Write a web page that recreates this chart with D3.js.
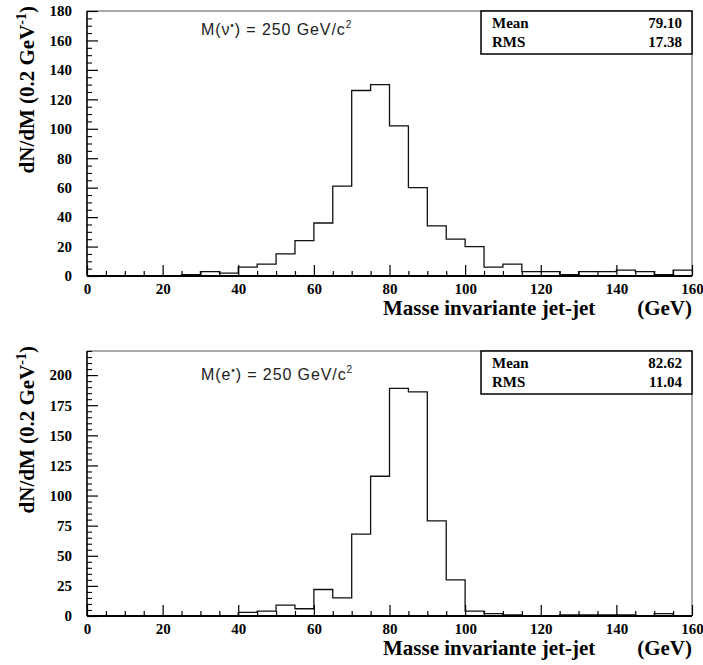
<!DOCTYPE html>
<html><head><meta charset="utf-8">
<script src="https://cdn.jsdelivr.net/npm/d3@7"></script>
<style>
body{margin:0;background:#fff;}
svg{display:block;}
</style></head>
<body>
<svg id="c" width="703" height="665"></svg>
<script>
// ---- data ----
const binLow = [0,5,10,15,20,25,30,35,40,45,50,55,60,65,70,75,80,85,90,95,100,105,110,115,120,125,130,135,140,145,150,155];
const binWidth = 5;
const nuValues = [0,0,0,0,0,1,3,2,6,8,15,24,36,61,126,130,102,60,34,25,20,6,8,3,3,1,3,3,4,3,1,4];
const eValues  = [0,0,0,0,0,0,0,0,3,4,9,6,22,15,68,116,189,186,79,30,4,2,1,0,0,1,1,1,1,0,2,0];
const xTicks = [0,20,40,60,80,100,120,140,160];
const yTicksTop = [0,20,40,60,80,100,120,140,160,180];
const yTicksBot = [0,25,50,75,100,125,150,175,200];
const statsTop = [["Mean","79.10"],["RMS","17.38"]];
const statsBot = [["Mean","82.62"],["RMS","11.04"]];
const labelTop = "ν";
const labelBot = "e";
const xTitle = "Masse invariante jet-jet";
const xUnit = "(GeV)";

const svg = d3.select("#c");
const serif = "'Liberation Serif','Times New Roman',serif";
const sans = "'Liberation Sans',Arial,sans-serif";

function panel(cfg){
  const g = svg.append("g");
  const x = d3.scaleLinear().domain([0,160]).range([87,692]);
  const y = d3.scaleLinear().domain([0,cfg.ymax]).range([cfg.bottom,cfg.top]);

  // frame top/right
  g.append("line").attr("x1",87).attr("x2",692).attr("y1",cfg.top).attr("y2",cfg.top)
    .attr("stroke","#555").attr("stroke-width",1);
  g.append("line").attr("x1",692).attr("x2",692).attr("y1",cfg.top).attr("y2",cfg.bottom)
    .attr("stroke","#555").attr("stroke-width",1);

  // histogram
  const pts = binLow.map((b,i)=>[b,cfg.values[i]]);
  pts.push([binLow[binLow.length-1]+binWidth, cfg.values[cfg.values.length-1]]);
  const line = d3.line().x(d=>x(d[0])).y(d=>y(d[1])).curve(d3.curveStepAfter);
  g.append("path").attr("d",line(pts)).attr("fill","none")
    .attr("stroke","#111").attr("stroke-width",1.3);

  // minor ticks x
  const xMinor = d3.axisBottom(x).tickValues(binLow.filter(v=>v%20!==0)).tickSizeInner(-5).tickSizeOuter(0).tickFormat("");
  g.append("g").attr("transform",`translate(0,${cfg.bottom})`).call(xMinor)
    .call(s=>s.select(".domain").remove())
    .call(s=>s.selectAll("line").attr("stroke","#000").attr("stroke-width",1.2));
  // major x
  const xAx = d3.axisBottom(x).tickValues(xTicks).tickSizeInner(-11).tickSizeOuter(0).tickPadding(7).tickFormat(d3.format("d"));
  g.append("g").attr("transform",`translate(0,${cfg.bottom})`).call(xAx)
    .call(s=>s.select(".domain").remove())
    .call(s=>s.selectAll("line").attr("stroke","#000").attr("stroke-width",1.2))
    .call(s=>s.selectAll("text").attr("font-family",serif).attr("font-weight","bold").attr("font-size",15).attr("fill","#000"));

  // y minor
  const yMinorVals = d3.range(0,cfg.ymax+0.001,5).filter(v=>v%cfg.ystep!==0);
  const yMinor = d3.axisLeft(y).tickValues(yMinorVals).tickSizeInner(-5).tickSizeOuter(0).tickFormat("");
  g.append("g").attr("transform","translate(87,0)").call(yMinor)
    .call(s=>s.select(".domain").remove())
    .call(s=>s.selectAll("line").attr("stroke","#000").attr("stroke-width",1.1));
  const yAx = d3.axisLeft(y).tickValues(cfg.yticks).tickSizeInner(-11).tickSizeOuter(0).tickPadding(15).tickFormat(d3.format("d"));
  g.append("g").attr("transform","translate(87,0)").call(yAx)
    .call(s=>s.select(".domain").remove())
    .call(s=>s.selectAll("line").attr("stroke","#000").attr("stroke-width",1.2))
    .call(s=>s.selectAll("text").attr("font-family",serif).attr("font-weight","bold").attr("font-size",15).attr("fill","#000"));

  // axis lines
  g.append("line").attr("x1",87).attr("x2",692).attr("y1",cfg.bottom).attr("y2",cfg.bottom)
    .attr("stroke","#000").attr("stroke-width",1.8);
  g.append("line").attr("x1",87).attr("x2",87).attr("y1",cfg.top).attr("y2",cfg.bottom)
    .attr("stroke","#000").attr("stroke-width",1.6);

  // stats box
  g.append("rect").attr("x",481).attr("y",cfg.top).attr("width",211).attr("height",43)
    .attr("fill","#fff").attr("stroke","#000").attr("stroke-width",1.5);
  cfg.stats.forEach((s,i)=>{
    const by = cfg.top + 17 + i*19;
    g.append("text").attr("x",492).attr("y",by).text(s[0])
      .attr("font-family",serif).attr("font-weight","bold").attr("font-size",15);
    g.append("text").attr("x",682).attr("y",by).attr("text-anchor","end").text(s[1])
      .attr("font-family",serif).attr("font-weight","bold").attr("font-size",15);
  });

  // annotation
  const t = g.append("text").attr("x",201).attr("y",cfg.annY)
    .attr("font-family",sans).attr("font-size",16).attr("letter-spacing",0.9).attr("fill","#222");
  t.append("tspan").text("M(" + cfg.particle);
  t.append("tspan").attr("dy",-6).attr("font-size",10).text("•");
  t.append("tspan").attr("dy",6).text(") = 250 GeV/c");
  t.append("tspan").attr("dy",-7).attr("font-size",10).text("2");

  // x title
  g.append("text").attr("x",383).attr("y",cfg.bottom+39).text(xTitle)
    .attr("font-family",serif).attr("font-weight","bold").attr("font-size",21);
  g.append("text").attr("x",692).attr("y",cfg.bottom+39).attr("text-anchor","end").text(xUnit)
    .attr("font-family",serif).attr("font-weight","bold").attr("font-size",21);

  // y title
  const yt = g.append("text").attr("transform",`translate(34,${cfg.top-5}) rotate(-90)`)
    .attr("text-anchor","end").attr("font-family",serif).attr("font-weight","bold").attr("font-size",21);
  yt.append("tspan").text("dN/dM (0.2 GeV");
  yt.append("tspan").attr("dy",-8).attr("font-size",14).text("-1");
  yt.append("tspan").attr("dy",8).text(")");
}

panel({top:11,bottom:276,ymax:180,ystep:20,yticks:yTicksTop,values:nuValues,stats:statsTop,particle:labelTop,annY:35});
panel({top:351,bottom:616,ymax:220,ystep:25,yticks:yTicksBot,values:eValues,stats:statsBot,particle:labelBot,annY:380});
</script>
</body></html>
